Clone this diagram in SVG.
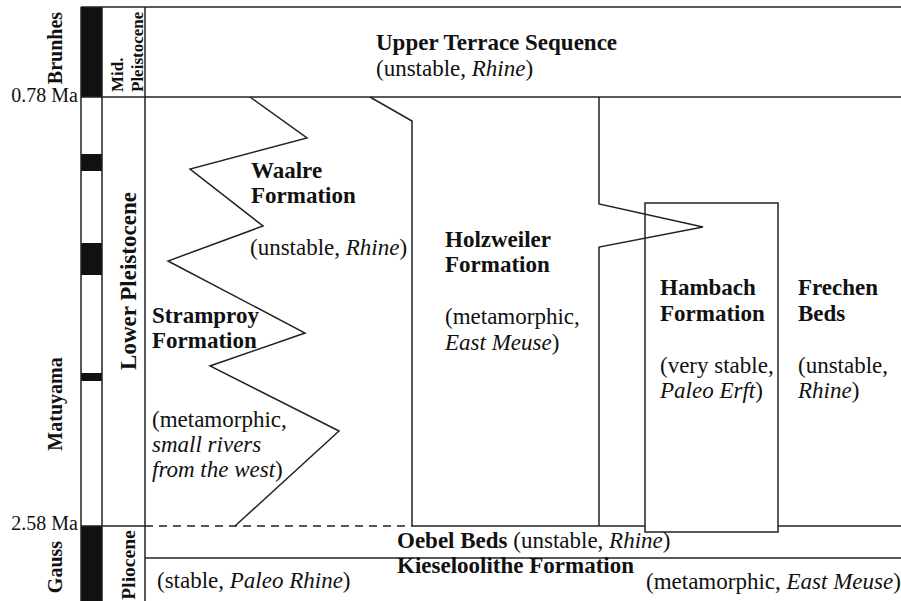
<svg xmlns="http://www.w3.org/2000/svg" width="901" height="601" viewBox="0 0 901 601" font-family="'Liberation Serif', 'Times New Roman', 'DejaVu Serif', serif">
<style>
.ln{fill:none;stroke:#222;stroke-width:1.5}
.blk{fill:#111;stroke:none}
text{font-family:'Liberation Serif','Times New Roman','DejaVu Serif',serif;fill:#111}
.t{font-size:23px}
.b{font-weight:bold}
.i{font-style:italic}
.lab{font-size:20px;font-weight:bold}
.age{font-size:20px}
</style>
<rect width="901" height="601" fill="#fff"/>
<g id="polarity-column">
<rect class="blk" x="81" y="7" width="21" height="90"/>
<rect class="blk" x="81" y="154" width="21" height="17"/>
<rect class="blk" x="81" y="243" width="21" height="32"/>
<rect class="blk" x="81" y="373" width="21" height="8"/>
<rect class="blk" x="81" y="526" width="21" height="75"/>
<line class="ln" x1="81" y1="7" x2="81" y2="601"/>
<line class="ln" x1="102" y1="7" x2="102" y2="601"/>
<text class="lab" transform="translate(62,48) rotate(-90)" text-anchor="middle">Brunhes</text>
<text class="lab" transform="translate(62,404) rotate(-90)" text-anchor="middle">Matuyama</text>
<text class="lab" transform="translate(62,567) rotate(-90)" text-anchor="middle">Gauss</text>
<text class="age" x="78" y="102" text-anchor="end">0.78 Ma</text>
<text class="age" x="78" y="530" text-anchor="end">2.58 Ma</text>
</g>
<g id="epoch-column">
<line class="ln" x1="145" y1="7" x2="145" y2="601"/>
<text class="b" style="font-size:17px" transform="translate(123,92) rotate(-90)">Mid.</text>
<text class="b" style="font-size:17px" transform="translate(143,92) rotate(-90)">Pleistocene</text>
<text class="b" style="font-size:23px" transform="translate(136,281) rotate(-90)" text-anchor="middle">Lower Pleistocene</text>
<text class="b" style="font-size:19.5px" transform="translate(135,565) rotate(-90)" text-anchor="middle">Pliocene</text>
</g>
<g id="frame">
<line class="ln" x1="81" y1="7" x2="901" y2="7"/>
<line class="ln" x1="81" y1="97" x2="901" y2="97"/>
<line class="ln" x1="81" y1="526" x2="145" y2="526"/>
<line class="ln" x1="145" y1="526" x2="412" y2="526" stroke-dasharray="8 6"/>
<line class="ln" x1="412" y1="526" x2="645" y2="526"/>
<line class="ln" x1="778" y1="526" x2="901" y2="526"/>
<line class="ln" x1="145" y1="558" x2="901" y2="558"/>
</g>
<g id="connectors">
<polyline class="ln" points="250,97 307,138 190,169 263,226 168,261 305,333 210,366 339,431 235,526"/>
<polyline class="ln" points="370,97 412,121 412,526"/>
<polyline class="ln" points="599,97 599,204 703,227 599,247 599,526"/>
</g>
<g id="upper-terrace">
<text class="t b" x="376" y="50">Upper Terrace Sequence</text>
<text class="t" x="376" y="76">(unstable<tspan class="i">, Rhine</tspan>)</text>
</g>
<g id="waalre">
<text class="t b" x="251" y="178">Waalre</text>
<text class="t b" x="251" y="203">Formation</text>
<text class="t" x="250" y="255">(unstable, <tspan class="i">Rhine</tspan>)</text>
</g>
<g id="stramproy">
<text class="t b" x="152" y="323">Stramproy</text>
<text class="t b" x="152" y="348">Formation</text>
<text class="t" x="152" y="427">(metamorphic,</text>
<text class="t i" x="152" y="452">small rivers</text>
<text class="t" x="152" y="477"><tspan class="i">from the west</tspan>)</text>
</g>
<g id="holzweiler">
<text class="t b" x="445" y="247">Holzweiler</text>
<text class="t b" x="445" y="272">Formation</text>
<text class="t" x="445" y="324">(metamorphic,</text>
<text class="t" x="445" y="350"><tspan class="i">East Meuse</tspan>)</text>
</g>
<g id="hambach">
<rect class="ln" x="645" y="203" width="133" height="329"/>
<text class="t b" x="660" y="295">Hambach</text>
<text class="t b" x="660" y="321">Formation</text>
<text class="t" x="660" y="373">(very stable,</text>
<text class="t" x="660" y="398"><tspan class="i">Paleo Erft</tspan>)</text>
</g>
<g id="frechen">
<text class="t b" x="798" y="295">Frechen</text>
<text class="t b" x="798" y="321">Beds</text>
<text class="t" x="798" y="373">(unstable,</text>
<text class="t" x="798" y="398"><tspan class="i">Rhine</tspan>)</text>
</g>
<g id="oebel">
<text class="t" x="397" y="548"><tspan class="b">Oebel Beds</tspan> (unstable, <tspan class="i">Rhine</tspan>)</text>
</g>
<g id="kieseloolithe">
<text class="t b" x="397" y="573">Kieseloolithe Formation</text>
<text class="t" x="157" y="588">(stable, <tspan class="i">Paleo Rhine</tspan>)</text>
<text class="t" x="646" y="589">(metamorphic, <tspan class="i">East Meuse</tspan>)</text>
</g>
</svg>
